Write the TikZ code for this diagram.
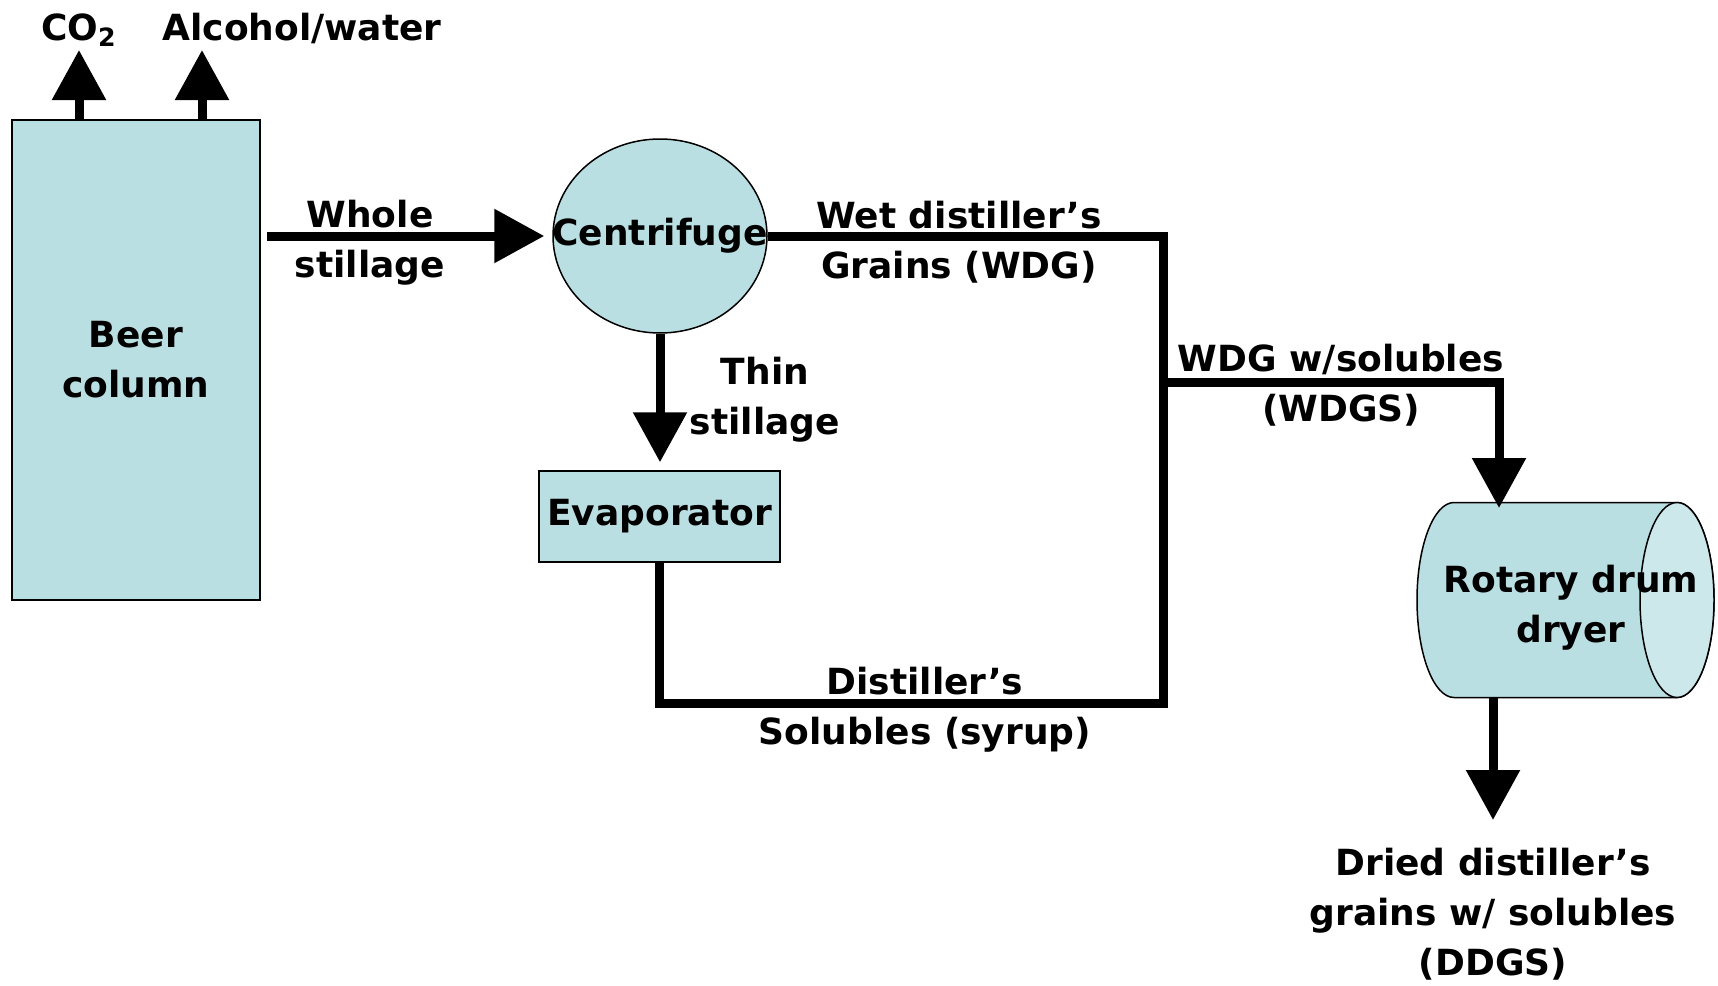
\documentclass[tikz,border=0pt]{standalone}
\usepackage{fontspec}
\setmainfont{DejaVu Sans}
\usetikzlibrary{arrows.meta,shapes.geometric,calc}
\definecolor{boxfill}{RGB}{186,223,227}
\definecolor{endfill}{RGB}{204,232,235}
\begin{document}
\begin{tikzpicture}[x=0.5pt,y=-0.5pt,
  txt/.style={font=\bfseries\fontsize{18}{25}\selectfont, align=center, inner sep=0pt},
  lbl/.style={txt, yshift=-1.5pt},
  unit/.style={draw=black, line width=0.75pt, fill=boxfill, txt},
  flow/.style={line width=4.5pt, -{Triangle[width=26pt,length=25pt]}, line join=miter},
  pipe/.style={line width=4.5pt, line join=miter}]
\useasboundingbox (0,0) rectangle (1718,985);

% units
\node[unit, minimum width=124pt, minimum height=240pt] (beer) at (136,360) {\raisebox{-3pt}{Beer}\\\raisebox{-3pt}{column}};
\node[unit, ellipse, minimum width=107pt, minimum height=97pt, inner sep=0pt] (cent) at (660,236) {\raisebox{-2pt}{\makebox[0pt]{Centrifuge}}};
\node[unit, minimum width=120.5pt, minimum height=45.5pt] (evap) at (659.5,516.5) {\raisebox{-1.5pt}{Evaporator}};

% rotary drum dryer (cylinder)
\filldraw[draw=black, line width=0.75pt, fill=boxfill] (1677,502.5) -- (1454,502.5)
  arc[start angle=-90, end angle=-270, x radius=37, y radius=97.5] -- (1677,697.5)
  arc[start angle=90, end angle=-90, x radius=37, y radius=97.5] -- cycle;
\filldraw[draw=black, line width=0.75pt, fill=endfill] (1677,600) ellipse[x radius=37, y radius=97.5];
\node[lbl] (dryer) at (1571,605) {Rotary drum\\dryer};

% labels
\node[txt, anchor=base] (co2) at (79,40) {CO\textsubscript{2}};
\node[txt, anchor=base] (alc) at (302,40) {Alcohol/water};
\node[lbl] (whole) at (370,240) {Whole\\stillage};
\node[lbl] (wdg) at (959,239) {Wet distiller’s\\Grains (WDG)};
\node[lbl] (thin) at (765,397) {Thin\\stillage};
\node[lbl] (wdgs) at (1341,382) {WDG w/solubles\\(WDGS)};
\node[lbl] (syrup) at (925,707) {Distiller’s\\Solubles (syrup)};
\node[lbl] (ddgs) at (1493,911) {Dried distiller’s\\grains w/ solubles\\(DDGS)};

% coordinates
\coordinate (co2tip) at (79,50);
\coordinate (alctip) at (202,50);
\coordinate (jbot) at (1163,703);
\coordinate (jw) at (1163,382);
\coordinate (dtop) at (1499,508);
\coordinate (dbot) at (1493,698);
\coordinate (ddgstip) at (1493,820);

% connectors
\draw[flow] (beer.north -| co2tip) -- (co2tip);
\draw[flow] (beer.north -| alctip) -- (alctip);
\draw[flow] ($(beer.east |- cent.west)+(3pt,0pt)$) -- ([xshift=-4pt]cent.west);
\draw[pipe] (cent.east) -| (jbot) -| (evap.south);
\draw[flow] (jw) -| (dtop);
\draw[flow] (cent.south) -- ($(cent.south |- evap.north)+(0pt,4pt)$);
\draw[flow] (dbot) -- (ddgstip);
\end{tikzpicture}
\end{document}
